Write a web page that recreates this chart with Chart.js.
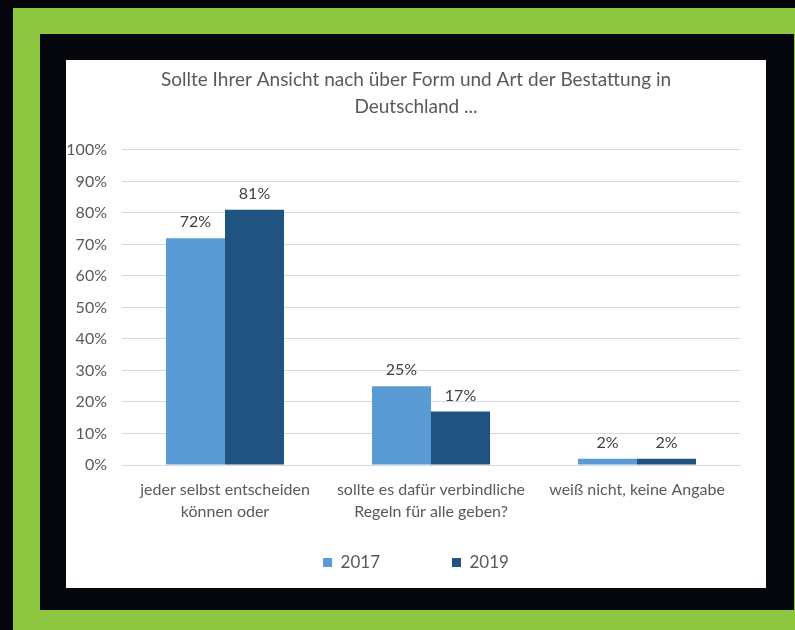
<!DOCTYPE html>
<html>
<head>
<meta charset="utf-8">
<script src="https://cdn.jsdelivr.net/npm/chart.js@4.4.1/dist/chart.umd.min.js"></script>
<style>
  html, body { margin: 0; padding: 0; background: #05070c; width: 795px; height: 630px; overflow: hidden; }
  #green { position: absolute; left: 13px; top: 8px; width: 800px; height: 640px; background: #8dc63f; }
  #frame { position: absolute; left: 40px; top: 34px; width: 754px; height: 576px; background: #05070c; }
  #card { position: absolute; left: 66px; top: 60px; width: 700px; height: 528px; background: #fff; }
</style>
</head>
<body>
<div id="green"></div>
<div id="frame"></div>
<div id="card"><canvas id="chartCanvas" width="700" height="528"></canvas></div>
<script>
// chart data
const categories = [
  ['jeder selbst entscheiden', 'können oder'],
  ['sollte es dafür verbindliche', 'Regeln für alle geben?'],
  ['weiß nicht, keine Angabe']
];
const values2017 = [72, 25, 2];
const values2019 = [81, 17, 2];
const seriesNames = ['2017', '2019'];
const yTicks = [0, 10, 20, 30, 40, 50, 60, 70, 80, 90, 100];

const FONT = "Lato, 'Open Sans', sans-serif";
const textColor = '#595959';

// value labels above each bar
const barLabels = {
  id: 'barLabels',
  afterDatasetsDraw(chart) {
    const c = chart.ctx;
    c.save();
    c.font = '16px ' + FONT;
    c.fillStyle = '#404040';
    c.textAlign = 'center';
    c.textBaseline = 'bottom';
    chart.data.datasets.forEach((ds, i) => {
      chart.getDatasetMeta(i).data.forEach((bar, j) => {
        c.fillText(ds.data[j] + '%', bar.x, bar.y - 8);
      });
    });
    c.restore();
  }
};

// wide gap between legend items needs a big padding; pull the legend box up
// under the axis labels and let it run to the bottom of the canvas
const legendShift = {
  id: 'legendShift',
  afterLayout(chart) {
    const lg = chart.legend;
    lg.top = chart.chartArea.bottom + 17;
    lg.bottom = chart.height;
    lg.height = lg.bottom - lg.top;
  }
};

new Chart(document.getElementById('chartCanvas').getContext('2d'), {
  type: 'bar',
  data: {
    labels: categories,
    datasets: [
      { label: seriesNames[0], data: values2017, backgroundColor: '#5b9bd5' },
      { label: seriesNames[1], data: values2019, backgroundColor: '#1f5381' }
    ]
  },
  options: {
    responsive: false,
    animation: false,
    categoryPercentage: 0.573,
    barPercentage: 1,
    layout: { padding: 0 },
    plugins: {
      title: {
        display: true,
        text: ['Sollte Ihrer Ansicht nach über Form und Art der Bestattung in', 'Deutschland ...'],
        color: textColor,
        font: { family: FONT, size: 19, weight: 'normal', lineHeight: 1.42 },
        padding: { top: 6, bottom: 30 }
      },
      legend: {
        position: 'bottom',
        maxHeight: 68,
        labels: {
          color: textColor,
          font: { family: FONT, size: 17 },
          boxWidth: 9,
          boxHeight: 9,
          padding: 72
        }
      },
      tooltip: { enabled: false }
    },
    scales: {
      x: {
        grid: { display: false, drawTicks: false },
        border: { color: '#d9d9d9' },
        ticks: { color: textColor, font: { family: FONT, size: 16, lineHeight: 1.375 }, padding: 14, maxRotation: 0 },
        afterFit(axis) { axis.height = 55; }
      },
      y: {
        min: 0,
        max: 100,
        afterBuildTicks(axis) { axis.ticks = yTicks.map(v => ({ value: v })); },
        grid: { color: '#d9d9d9', drawTicks: false },
        border: { display: false },
        ticks: {
          color: textColor,
          font: { family: FONT, size: 16 },
          padding: 15,
          callback: v => v + '%'
        },
        afterFit(axis) { axis.width = 56; }
      },
      // empty right margin so the title and legend stay centred on the card
      yRight: {
        position: 'right',
        grid: { display: false },
        border: { display: false },
        ticks: { display: false },
        afterFit(axis) { axis.width = 26; }
      }
    }
  },
  plugins: [barLabels, legendShift]
});
</script>
</body>
</html>
